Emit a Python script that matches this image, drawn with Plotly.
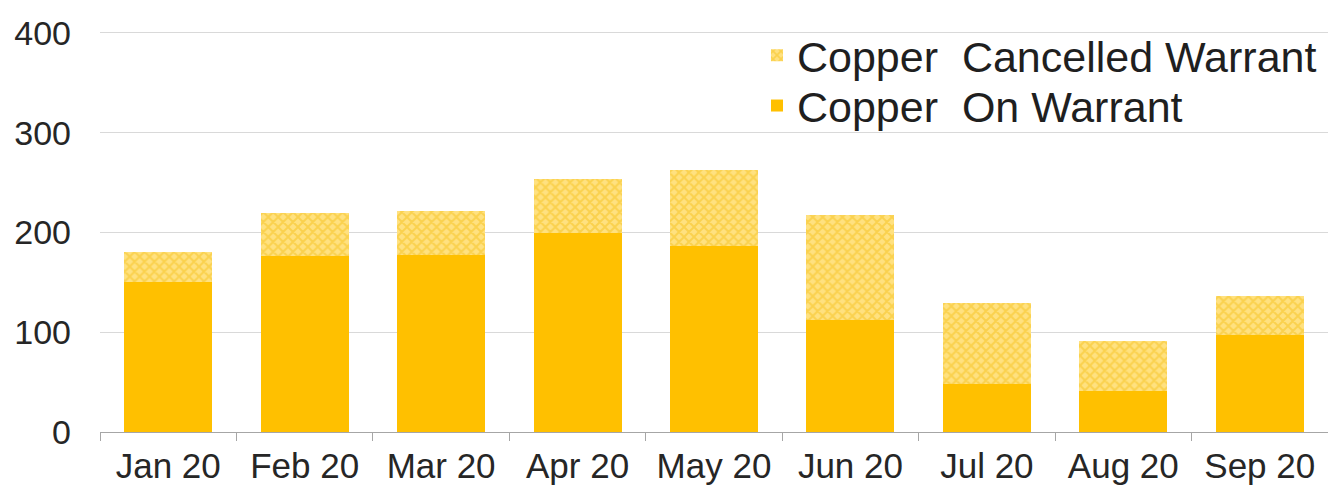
import plotly.graph_objects as go

months = ["Jan 20", "Feb 20", "Mar 20", "Apr 20", "May 20", "Jun 20", "Jul 20", "Aug 20", "Sep 20"]
on_warrant = [150, 176, 177, 199, 186, 112, 48, 41, 97]
total_stock = [180, 220, 222, 254, 263, 218, 129, 91, 136]
cancelled_warrant = [t - o for t, o in zip(total_stock, on_warrant)]
y_ticks = [0, 100, 200, 300, 400]

GOLD = "#FFC000"
FONT = "Arial, Liberation Sans, sans-serif"

fig = go.Figure()
fig.add_trace(go.Bar(
    x=months, y=on_warrant, name="Copper\u00a0 On Warrant",
    marker=dict(color=GOLD, line=dict(width=0)),
    legend="legend2",
))
fig.add_trace(go.Bar(
    x=months, y=cancelled_warrant, name="Copper\u00a0 Cancelled Warrant",
    marker=dict(
        color="#FFDA6A", line=dict(width=0),
        pattern=dict(shape="x", fgcolor="#F6C21C", bgcolor="#FFE180", size=7, solidity=0.5),
    ),
    legend="legend",
))

legend_common = dict(
    xref="paper", xanchor="left", yanchor="middle",
    bgcolor="rgba(0,0,0,0)", font=dict(size=43, color="#1f1f1f"), itemwidth=30,
)

fig.update_layout(
    width=1328, height=503,
    margin=dict(l=100, r=0, t=29, b=71),
    paper_bgcolor="white", plot_bgcolor="white",
    barmode="stack", bargap=0.355,
    font=dict(family=FONT, size=34, color="#262626"),
    showlegend=True,
    legend=dict(x=0.535, y=0.935, **legend_common),
    legend2=dict(x=0.535, y=0.81, **legend_common),
    xaxis=dict(
        type="category", tickson="boundaries", ticks="outside", ticklen=8,
        tickcolor="#a6a6a6", tickwidth=1, showgrid=False,
        showline=True, linecolor="#a6a6a6", linewidth=1,
        tickfont=dict(size=35), ticklabelstandoff=3, automargin=False,
    ),
    yaxis=dict(
        range=[0, 404], tickvals=y_ticks, showgrid=True, gridcolor="#d9d9d9",
        gridwidth=1, zeroline=False, showline=False, ticks="",
        tickfont=dict(size=34), ticklabelstandoff=28, automargin=False,
    ),
)

fig.write_html("out.html")
